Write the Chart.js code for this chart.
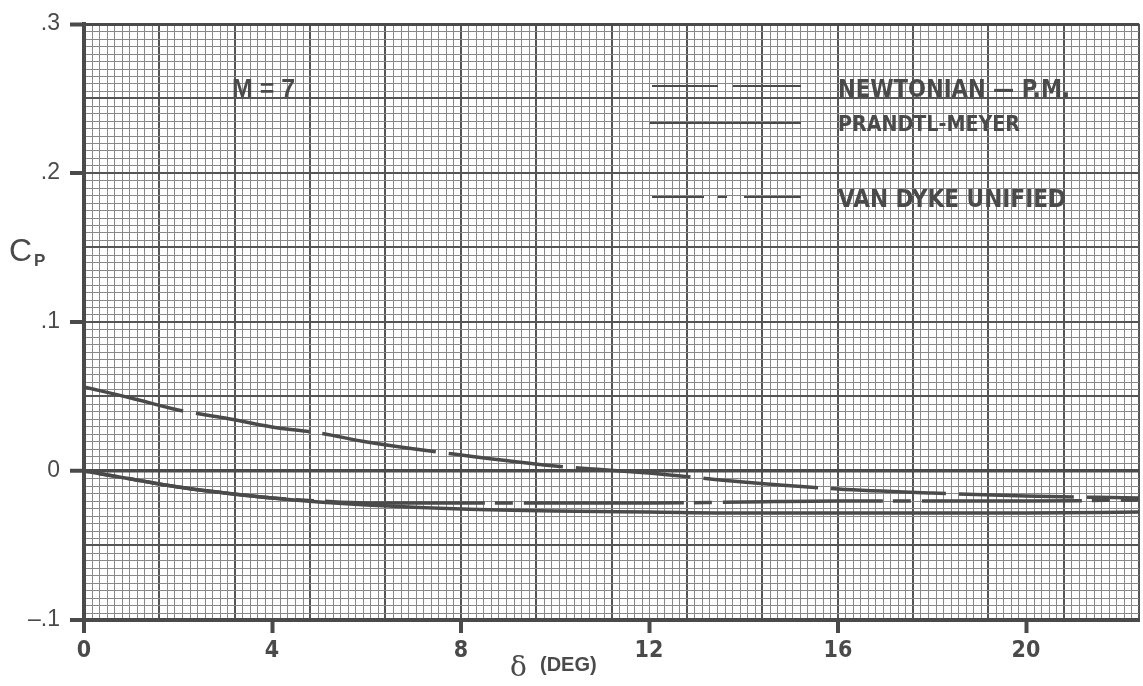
<!DOCTYPE html>
<html>
<head>
<meta charset="utf-8">
<script src="https://cdn.jsdelivr.net/npm/chart.js@4.4.1/dist/chart.umd.min.js"></script>
<style>
  html, body { margin: 0; padding: 0; background: #fff; }
  #wrap { width: 1143px; height: 686px; position: relative; }
</style>
</head>
<body>
<div id="wrap"><canvas id="cp_chart"></canvas></div>
<script>
// delta (deg) where the curves were read
const deltaDeg = [0, 1, 2, 3, 4, 5, 6, 8, 10, 12, 14, 16, 18, 20, 22.4];
// Cp
const newtonianPM = [0.056, 0.0487, 0.0407, 0.0352, 0.0296, 0.0252, 0.0195, 0.0106, 0.0035, -0.0015, -0.0076, -0.0118, -0.0148, -0.0168, -0.0182];
const prandtlMeyer = [0, -0.0052, -0.0105, -0.0148, -0.0182, -0.0207, -0.0226, -0.0252, -0.0266, -0.0275, -0.028, -0.0282, -0.0281, -0.028, -0.0278];
const vanDyke = [0, -0.0052, -0.0105, -0.0148, -0.0182, -0.0203, -0.0212, -0.0215, -0.0214, -0.0212, -0.021, -0.0204, -0.0201, -0.0199, -0.0196];

// axis ticks and labels
const xTickValues = [0, 4, 8, 12, 16, 20];
const yTickValues = [0.3, 0.2, 0.1, 0, -0.1];
const yTickLabels = ['.3', '.2', '.1', '0', '\u2013.1'];

// graph paper
const xMin = 0, xMax = 22.4, xMinorStep = 0.16;
const yMin = -0.1, yMax = 0.3, yMinorStep = 0.005;

const ink = '#4a4a4a';

function near(a, b) { return Math.abs(a - b) < 1e-6; }
function isLabelX(v) { return xTickValues.some(t => near(t, v)); }
function isLabelY(v) { return yTickValues.some(t => near(t, v)); }

function paperTicks(min, max, step) {
    const out = [];
    const n = Math.round((max - min) / step);
    for (let i = 0; i <= n; i++) {
        out.push({ value: Math.round((min + i * step) * 100000) / 100000, idx: i });
    }
    return out;
}

function toPoints(ys) {
    return deltaDeg.map((x, i) => ({ x: x, y: ys[i] }));
}

const paperText = {
    id: 'paperText',
    afterDraw(chart) {
        const c = chart.ctx;
        c.save();
        c.fillStyle = ink;
        c.textBaseline = 'alphabetic';
        c.textAlign = 'left';

        c.font = 'bold 25px "Liberation Sans", sans-serif';
        c.fillText('M = 7', 232, 97, 78);

        c.font = 'bold 24px "Liberation Sans Narrow", "DejaVu Sans Condensed", "Liberation Sans", sans-serif';
        c.fillText('NEWTONIAN \u2014 P.M.', 838, 97, 232);
        c.font = 'bold 22px "Liberation Sans Narrow", "DejaVu Sans Condensed", "Liberation Sans", sans-serif';
        c.fillText('PRANDTL-MEYER', 838, 131, 182);
        c.font = 'bold 25px "Liberation Sans Narrow", "DejaVu Sans Condensed", "Liberation Sans", sans-serif';
        c.fillText('VAN DYKE UNIFIED', 838, 207, 228);

        // legend samples
        c.strokeStyle = ink;
        c.lineWidth = 2;
        const seg = (x1, x2, y) => { c.beginPath(); c.moveTo(x1, y); c.lineTo(x2, y); c.stroke(); };
        seg(652, 718, 86); seg(733, 801, 86);
        seg(650, 801, 123);
        seg(652, 704, 197); seg(718, 727, 197); seg(744, 801, 197);

        // axis titles
        c.font = '32px "Liberation Sans", sans-serif';
        c.fillText('C', 9, 261);
        c.font = 'bold 17px "Liberation Sans", sans-serif';
        c.fillText('P', 34, 266);
        c.font = '28px "DejaVu Serif", serif';
        c.fillText('\u03b4', 510, 676);
        c.font = 'bold 20px "Liberation Sans", sans-serif';
        c.fillText('(DEG)', 540, 671);
        c.restore();
    }
};

const ctx = document.getElementById('cp_chart');
new Chart(ctx, {
    type: 'line',
    data: {
        datasets: [{
            label: 'NEWTONIAN - P.M.',
            data: toPoints(newtonianPM),
            borderColor: ink,
            borderWidth: 3.5,
            borderDash: [115, 13],
            borderDashOffset: 13,
            pointRadius: 0,
            cubicInterpolationMode: 'monotone'
        }, {
            label: 'PRANDTL-MEYER',
            data: toPoints(prandtlMeyer),
            borderColor: ink,
            borderWidth: 3.5,
            pointRadius: 0,
            cubicInterpolationMode: 'monotone'
        }, {
            label: 'VAN DYKE UNIFIED',
            data: toPoints(vanDyke),
            borderColor: ink,
            borderWidth: 3.5,
            borderDash: [160, 10, 18, 11],
            borderDashOffset: 155,
            pointRadius: 0,
            cubicInterpolationMode: 'monotone'
        }]
    },
    options: {
        responsive: true,
        maintainAspectRatio: false,
        animation: false,
        layout: { padding: { left: 0, right: 0, top: 18, bottom: 0 } },
        plugins: {
            legend: { display: false },
            tooltip: { enabled: false }
        },
        scales: {
            x: {
                type: 'linear',
                min: xMin,
                max: xMax,
                alignToPixels: true,
                afterBuildTicks: (scale) => { scale.ticks = paperTicks(xMin, xMax, xMinorStep); },
                afterFit: (scale) => { scale.height = 66; },
                ticks: {
                    autoSkip: false,
                    maxRotation: 0,
                    padding: 4,
                    color: ink,
                    font: { family: '"Liberation Sans Narrow", "DejaVu Sans Condensed", sans-serif', size: 23, weight: 'bold' },
                    callback: (v) => isLabelX(v) ? String(Math.round(v)) : ''
                },
                grid: {
                    drawTicks: true,
                    tickLength: 13,
                    tickWidth: 4,
                    tickColor: (c) => (c.tick && isLabelX(c.tick.value)) ? ink : 'rgba(0,0,0,0)',
                    color: (c) => (c.tick && c.tick.idx % 10 === 0) ? '#555555' : '#888888',
                    lineWidth: (c) => (c.tick && c.tick.idx % 10 === 0) ? 2 : 1
                },
                border: { display: true, color: ink, width: 4 }
            },
            y: {
                type: 'linear',
                min: yMin,
                max: yMax,
                alignToPixels: true,
                afterBuildTicks: (scale) => { scale.ticks = paperTicks(yMin, yMax, yMinorStep); },
                afterFit: (scale) => { scale.width = 84; },
                ticks: {
                    autoSkip: false,
                    padding: 10,
                    color: ink,
                    font: { family: '"Liberation Sans", sans-serif', size: 23 },
                    callback: (v) => {
                        const k = yTickValues.findIndex(t => near(t, v));
                        return k >= 0 ? yTickLabels[k] : '';
                    }
                },
                grid: {
                    drawTicks: true,
                    tickLength: 14,
                    tickWidth: 4,
                    tickColor: (c) => (c.tick && isLabelY(c.tick.value)) ? ink : 'rgba(0,0,0,0)',
                    color: (c) => {
                        if (!c.tick) return '#888888';
                        if (near(c.tick.value, 0) || near(c.tick.value, yMax)) return ink;
                        return c.tick.idx % 10 === 0 ? '#555555' : '#888888';
                    },
                    lineWidth: (c) => {
                        if (!c.tick) return 1;
                        if (near(c.tick.value, 0)) return 3.5;
                        if (near(c.tick.value, yMax)) return 3;
                        return c.tick.idx % 10 === 0 ? 2 : 1;
                    }
                },
                border: { display: true, color: ink, width: 4 }
            }
        }
    },
    plugins: [paperText]
});
</script>
</body>
</html>
